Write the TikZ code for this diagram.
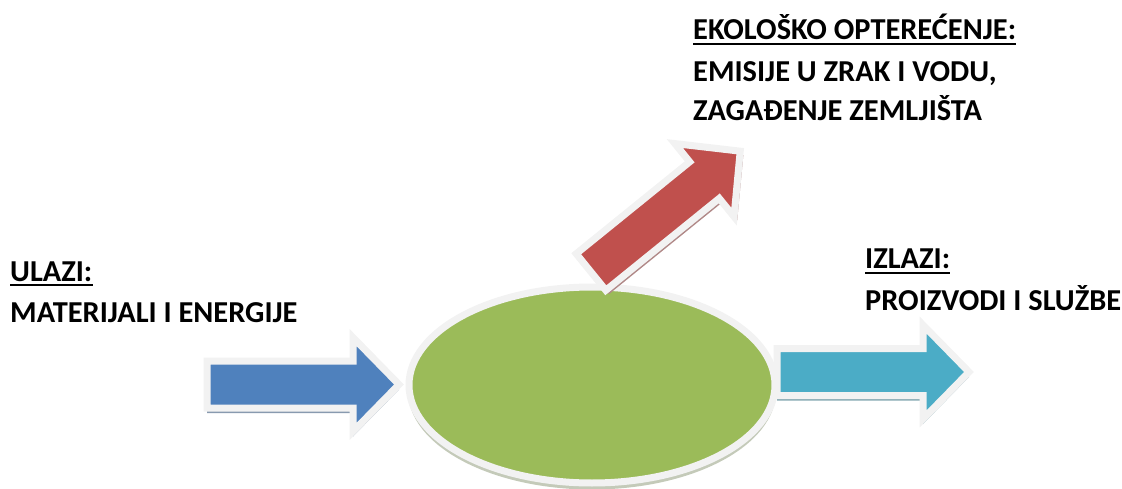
\documentclass[tikz,border=0pt]{standalone}
\usepackage{fontspec}
\setmainfont{Carlito}
\usetikzlibrary{shapes.geometric}

\definecolor{inblue}{HTML}{4F81BD}
\definecolor{outred}{HTML}{C0504D}
\definecolor{coregreen}{HTML}{9BBB59}
\definecolor{outteal}{HTML}{4BACC6}
\definecolor{rimgrey}{HTML}{F2F2F2}

\tikzset{
  pics/fatarrow/.style={code={
      \fill[#1!45!gray!80!white, shift={(0,5)}] (0,-23.5) -- (146,-23.5) -- (146,-47) -- (192,0) -- (146,47) -- (146,23.5) -- (0,23.5) -- cycle;
      \draw[line width=7, draw=rimgrey, fill=#1, line join=miter] (0,-23.5) -- (146,-23.5) -- (146,-47) -- (192,0) -- (146,47) -- (146,23.5) -- (0,23.5) -- cycle;
  }},
  caption/.style={font=\bfseries\fontsize{30.4}{36}\selectfont, inner sep=0, anchor=base west},
  underbar/.style={line width=2.4},
}

\begin{document}
\begin{tikzpicture}[x=1pt, y=-1pt]
      \useasboundingbox (0,0) rectangle (1122,489);

      \fill[coregreen!35!gray!50!white] (592,391) ellipse [x radius=184, y radius=98.5];
      \node [ellipse, draw=rimgrey, line width=7, fill=coregreen, minimum width=366, minimum height=196, inner sep=0] (core) at (592,385) {};

      \pic at (207,384.5) {fatarrow=inblue};
      \pic[rotate=39] at (591,272) {fatarrow=outred};
      \pic at (777,372) {fatarrow=outteal};

      \node [caption] (ekoTitle) at (693,40) {EKOLOŠKO OPTEREĆENJE:};
      \node [caption] (ekoLineA) at (693,82) {EMISIJE U ZRAK I VODU,};
      \node [caption] (ekoLineB) at (693,121) {ZAGAĐENJE ZEMLJIŠTA};
      \draw[underbar] ([yshift=-4]ekoTitle.base west) -- ([yshift=-4]ekoTitle.base east);

      \node [caption] (inTitle) at (10,281) {ULAZI:};
      \node [caption] (inLine) at (10,322) {MATERIJALI I ENERGIJE};
      \draw[underbar] ([yshift=-4]inTitle.base west) -- ([yshift=-4]inTitle.base east);

      \node [caption] (outTitle) at (865,269) {IZLAZI:};
      \node [caption] (outLine) at (865,310) {PROIZVODI I SLUŽBE};
      \draw[underbar] ([yshift=-4]outTitle.base west) -- ([yshift=-4]outTitle.base east);
\end{tikzpicture}
\end{document}
